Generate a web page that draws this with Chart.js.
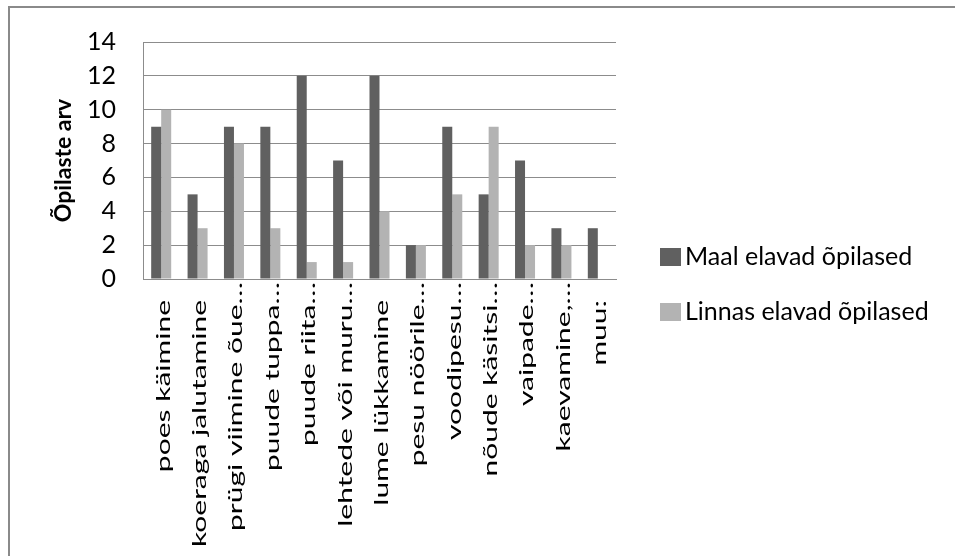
<!DOCTYPE html>
<html>
<head>
<meta charset="utf-8">
<script src="https://cdn.jsdelivr.net/npm/chart.js@4"></script>
<style>
  body { margin: 0; background: #fff; }
  #frame {
    position: absolute; left: 8px; top: 6px; width: 960px; height: 560px;
    border-top: 2px solid #8a8a8a; border-left: 2px solid #8a8a8a;
  }
  #wrap { position: absolute; left: 0; top: 0; width: 955px; height: 556px; }
  .leg { position: absolute; left: 660px; font-family: Lato, sans-serif; font-size: 25px; color: #000; white-space: nowrap; }
  .leg span { display: inline-block; width: 21px; height: 18px; vertical-align: middle; margin-right: 4px; margin-top: -3px; }
</style>
</head>
<body>
<div id="frame"></div>
<div id="wrap"><canvas id="chart"></canvas></div>
<div id="legend"></div>
<script>
// andmed
const categories = [
  "poes käimine",
  "koeraga jalutamine",
  "prügi viimine õue…",
  "puude tuppa…",
  "puude riita…",
  "lehtede või muru…",
  "lume lükkamine",
  "pesu nöörile…",
  "voodipesu…",
  "nõude käsitsi…",
  "vaipade…",
  "kaevamine,…",
  "muu:",
];
const maalValues = [9, 5, 9, 9, 12, 7, 12, 2, 9, 5, 7, 3, 3];
const linnasValues = [10, 3, 8, 3, 1, 1, 4, 2, 5, 9, 2, 2, 0];
const seriesNames = ["Maal elavad õpilased", "Linnas elavad õpilased"];
const seriesColors = ["#606060", "#b3b3b3"];
const yTicks = [0, 2, 4, 6, 8, 10, 12, 14];

const fontFamily = "Lato, sans-serif";

// x-telje sildid: pööratud ja teksti suunas venitatud nagu originaalis
const stretchedLabels = {
  id: "stretchedLabels",
  afterDraw(chart) {
    const xs = chart.scales.x;
    const c = chart.ctx;
    c.save();
    c.fillStyle = "#000";
    c.font = "20px " + fontFamily;
    c.textAlign = "right";
    c.textBaseline = "middle";
    xs.ticks.forEach((t, i) => {
      const label = categories[i];
      const pad = label.endsWith("…") ? 3 : 21;
      c.save();
      c.translate(xs.getPixelForTick(i) + 2, xs.top + pad);
      c.rotate(-Math.PI / 2);
      c.scale(1.5, 1);
      c.fillText(label, 0, 0);
      c.restore();
    });
    c.restore();
  },
};

var ctx = document.getElementById("chart").getContext("2d");
var chart = new Chart(ctx, {
  type: "bar",
  data: {
    labels: categories,
    datasets: [
      {
        label: seriesNames[0],
        data: maalValues,
        backgroundColor: seriesColors[0],
        categoryPercentage: 0.55,
        barPercentage: 1,
      },
      {
        label: seriesNames[1],
        data: linnasValues,
        backgroundColor: seriesColors[1],
        categoryPercentage: 0.55,
        barPercentage: 1,
      },
    ],
  },
  options: {
    responsive: true,
    maintainAspectRatio: false,
    animation: false,
    layout: { padding: { left: 48, top: 42, right: 339, bottom: 0 } },
    plugins: { legend: { display: false }, tooltip: { enabled: false } },
    scales: {
      x: {
        grid: { display: false },
        border: { color: "#8c8c8c", width: 1 },
        ticks: { display: false, autoSkip: false },
        afterFit: (scale) => { scale.height = 556 - 279; },
      },
      y: {
        min: yTicks[0],
        max: yTicks[yTicks.length - 1],
        grid: { color: "#8c8c8c", drawTicks: false },
        border: { color: "#8c8c8c", width: 1 },
        ticks: {
          stepSize: 2,
          padding: 27,
          color: "#000",
          font: { family: fontFamily, size: 25 },
        },
        title: {
          display: true,
          text: "Õpilaste arv",
          color: "#000",
          padding: { top: 2, bottom: 0 },
          font: { family: fontFamily, size: 23, weight: "bold" },
        },
        afterFit: (scale) => { scale.width = 143 - 48; },
      },
    },
  },
  plugins: [stretchedLabels],
});

// legend HTML-ina
const legendTops = [240, 295];
const legendBox = document.getElementById("legend");
seriesNames.forEach((name, i) => {
  const item = document.createElement("div");
  item.className = "leg";
  item.style.top = legendTops[i] + "px";
  item.innerHTML = '<span style="background:' + seriesColors[i] + '"></span>' + name;
  legendBox.appendChild(item);
});
</script>
</body>
</html>
